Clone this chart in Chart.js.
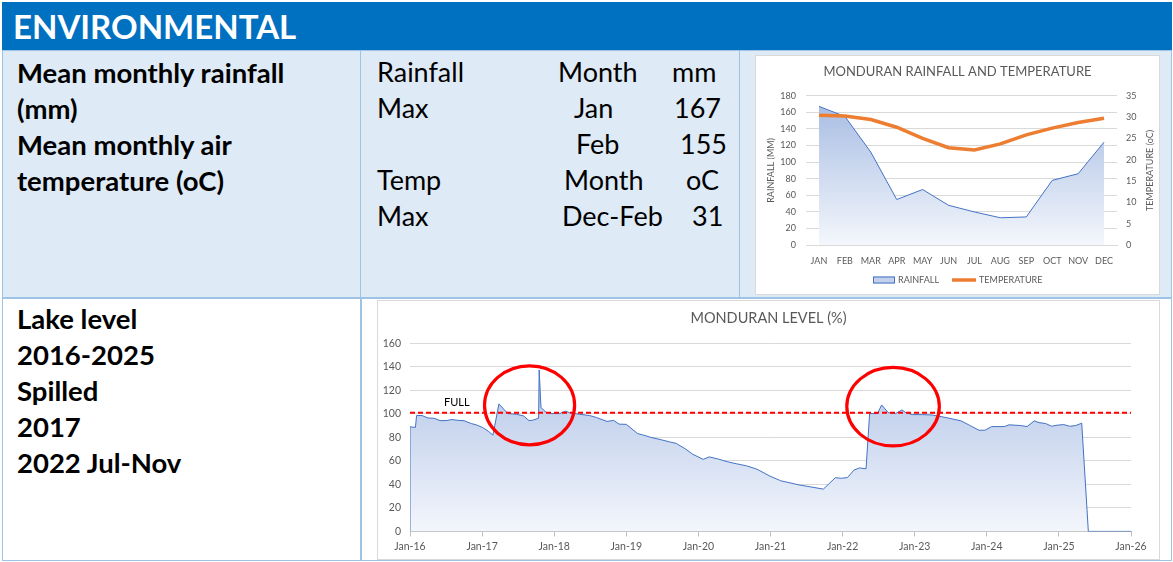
<!DOCTYPE html>
<html>
<head>
<meta charset="utf-8">
<script src="https://cdn.jsdelivr.net/npm/chart.js@4.4.1/dist/chart.umd.min.js"></script>
<style>
  body { margin: 0; width: 1173px; height: 562px; background: #fff; position: relative; overflow: hidden; font-family: Lato, "Open Sans", sans-serif; }
  .box { position: absolute; box-sizing: border-box; }
  .cell { border: 1.5px solid #9DC3E6; }
  .head { left: 2px; top: 2px; width: 1170px; height: 48px; background: #0070C0; color: #fff; font-weight: bold; font-size: 33px; line-height: 48px; padding-left: 11px; }
  .blue { background: #DEEAF6; }
  .lines { position: absolute; left: 14px; font-weight: bold; font-size: 27.5px; line-height: 36px; color: #000; white-space: nowrap; }
  .t { position: absolute; font-size: 27px; line-height: 36px; color: #000; white-space: nowrap; }
  .frame { background: #fff; border: 1px solid #D9D9D9; }
  canvas { position: absolute; left: 0; top: 0; }
</style>
</head>
<body>
<div class="box head">ENVIRONMENTAL</div>

<div class="box cell blue" style="left:2px; top:50px; width:360px; height:249px;">
  <div class="lines" style="top:4px;">Mean monthly rainfall<br>(mm)<br>Mean monthly air<br>temperature (oC)</div>
</div>
<div class="box cell blue" style="left:360px; top:50px; width:381px; height:249px;"></div>
<div class="box cell blue" style="left:739px; top:50px; width:433px; height:249px;"></div>

<div class="t" style="left:377px; top:54px;">Rainfall</div>
<div class="t" style="left:558px; top:54px;">Month</div>
<div class="t" style="left:672px; top:54px;">mm</div>
<div class="t" style="left:377px; top:90px;">Max</div>
<div class="t" style="left:574px; top:90px;">Jan</div>
<div class="t" style="left:674px; top:90px;">167</div>
<div class="t" style="left:576px; top:126px;">Feb</div>
<div class="t" style="left:680px; top:126px;">155</div>
<div class="t" style="left:377px; top:162px;">Temp</div>
<div class="t" style="left:564px; top:162px;">Month</div>
<div class="t" style="left:686px; top:162px;">oC</div>
<div class="t" style="left:377px; top:198px;">Max</div>
<div class="t" style="left:562px; top:198px;">Dec-Feb</div>
<div class="t" style="left:692px; top:198px;">31</div>

<div class="box frame" style="left:755px; top:55px; width:405px; height:240px;">
  <canvas id="rainChart" width="403" height="238"></canvas>
</div>

<div class="box cell" style="left:2px; top:297px; width:360px; height:264px;">
  <div class="lines" style="top:3px;">Lake level<br>2016-2025<br>Spilled<br>2017<br>2022 Jul-Nov</div>
</div>
<div class="box cell" style="left:360px; top:297px; width:812px; height:264px;"></div>

<div class="box frame" style="left:377px; top:300px; width:783px; height:260px;">
  <canvas id="levelChart" width="781" height="258"></canvas>
</div>

<script>
// Rainfall / temperature by month
const months = ["JAN", "FEB", "MAR", "APR", "MAY", "JUN", "JUL", "AUG", "SEP", "OCT", "NOV", "DEC"];
const rainfall = [167, 155, 112, 55, 67, 48, 40, 33, 34, 78, 86, 124];
const temperature = [30.4, 30.2, 29.4, 27.6, 25.0, 22.8, 22.3, 23.7, 25.8, 27.4, 28.7, 29.7];

// Lake level, x = months since Jan 2016
const levelMonth = [
  0, 0, 0.9, 1.1, 2, 3, 4, 5, 6, 7, 8, 9, 10.2, 11, 12.1, 13.1, 13.8, 14.8, 15.6, 16.3,
  17.7, 18.9, 19.8, 20.4, 21.4, 21.5, 21.8, 22.7, 23.5, 24.9, 25.9, 26.5, 28.2, 29.9, 31,
  32.8, 33.9, 34.8, 36, 37.9, 38.7, 40.1, 41.8, 43.2, 44.3, 45.9, 47, 48.8, 49.8, 51.3,
  52.8, 54.3, 56, 57.6, 58.1, 59.8, 61.7, 64.7, 68.8, 70.8, 71.8, 72.8, 73.9, 74.8, 75.9,
  76.5, 77.8, 78.5, 79.6, 80.8, 81.9, 82.5, 83.6, 85.3, 86.9, 89.2, 91.7, 93.1, 94.7, 95.7,
  96.8, 98.9, 99.7, 101.6, 102.7, 103.9, 104.7, 105.8, 106.8, 107.7, 108.8, 109.8, 110.8,
  111.8, 112.9, 120
];
const levelPct = [
  0, 89, 88.5, 98.6, 98.6, 96.5, 96.3, 94.3, 94.3, 95.2, 94.5, 94.2, 91.8, 90.7, 88.4, 85, 81.9, 108.5, 104, 100.3,
  99.7, 98.3, 94.3, 94.6, 96.3, 137.4, 105.4, 101.1, 100.3, 100.3, 102.3, 101.1, 99.7, 98.6, 97,
  93.6, 94.5, 91.3, 91.1, 83.2, 82.2, 80, 78, 76.2, 74.9, 70, 65.8, 61.3, 63.4, 61.6,
  59.3, 57.6, 55.8, 53.2, 52, 47.3, 43.1, 39.6, 36, 45.7, 45.2, 45.8, 52.2, 54, 53.3,
  100.3, 100.3, 107.6, 101.1, 100.3, 103.4, 101.1, 99.4, 99.4, 99.1, 96.9, 94.1, 90.4, 86.1, 86.1,
  89.2, 89.2, 90.7, 90.1, 89.2, 94.1, 92.6, 91.8, 89.5, 90.4, 90.9, 89.5, 90.1,
  92.1, 0, 0
];
const fullLevel = 101;
const yearLabels = ["Jan-16", "Jan-17", "Jan-18", "Jan-19", "Jan-20", "Jan-21", "Jan-22", "Jan-23", "Jan-24", "Jan-25", "Jan-26"];

Chart.defaults.font.family = "Lato";
Chart.defaults.color = "#595959";

// vertical gradient like the Excel area fill
function areaFill(top, bottom) {
  return (ctx) => {
    const area = ctx.chart.chartArea;
    if (!area) return top;
    const g = ctx.chart.ctx.createLinearGradient(0, area.top, 0, area.bottom);
    g.addColorStop(0, top);
    g.addColorStop(1, bottom);
    return g;
  };
}

// legend and right axis title drawn by hand (Excel style)
const rainExtras = {
  id: "rainExtras",
  afterDraw(chart) {
    const { ctx, chartArea, width } = chart;
    ctx.save();
    ctx.font = "9px Lato";
    ctx.fillStyle = "#595959";
    ctx.textBaseline = "middle";

    // right axis title, reading bottom to top
    ctx.save();
    ctx.translate(width - 9, (chartArea.top + chartArea.bottom) / 2);
    ctx.rotate(-Math.PI / 2);
    ctx.textAlign = "center";
    ctx.fillText("TEMPERATURE (oC)", 0, 0);
    ctx.restore();

    // legend
    const y = 224;
    const t1 = "RAINFALL";
    const t2 = "TEMPERATURE";
    const w1 = ctx.measureText(t1).width;
    const w2 = ctx.measureText(t2).width;
    const total = 22 + 3 + w1 + 13 + 24 + 3 + w2;
    let x = Math.round(width / 2 - total / 2);
    ctx.fillStyle = "#C3D1EC";
    ctx.fillRect(x, y - 3.5, 22, 7);
    ctx.strokeStyle = "#4472C4";
    ctx.lineWidth = 1;
    ctx.strokeRect(x + 0.5, y - 3, 21, 6);
    x += 25;
    ctx.fillStyle = "#595959";
    ctx.fillText(t1, x, y);
    x += w1 + 13;
    ctx.strokeStyle = "#ED7D31";
    ctx.lineWidth = 3.5;
    ctx.beginPath();
    ctx.moveTo(x, y);
    ctx.lineTo(x + 24, y);
    ctx.stroke();
    x += 27;
    ctx.fillText(t2, x, y);
    ctx.restore();
  },
};

new Chart(document.getElementById("rainChart"), {
  type: "line",
  data: {
    labels: months,
    datasets: [
      {
        label: "RAINFALL",
        data: rainfall,
        yAxisID: "y",
        fill: "origin",
        backgroundColor: areaFill("#A4BAE2", "#F4F7FC"),
        borderColor: "#4472C4",
        borderWidth: 1,
        pointRadius: 0,
        order: 2,
      },
      {
        label: "TEMPERATURE",
        data: temperature,
        yAxisID: "y1",
        fill: false,
        borderColor: "#ED7D31",
        borderWidth: 3.5,
        pointRadius: 0,
        order: 1,
      },
    ],
  },
  options: {
    responsive: false,
    animation: false,
    layout: { padding: { left: 0, right: 0, top: 0, bottom: 18 } },
    plugins: {
      tooltip: { enabled: false },
      legend: { display: false },
      title: {
        display: true,
        text: "MONDURAN RAINFALL AND TEMPERATURE",
        color: "#595959",
        font: { size: 13, weight: "normal" },
        padding: { top: 8, bottom: 16 },
      },
    },
    scales: {
      x: {
        offset: true,
        grid: { display: false, drawTicks: false },
        border: { color: "#D9D9D9" },
        ticks: { color: "#595959", font: { size: 9 }, padding: 10, maxRotation: 0 },
      },
      y: {
        position: "left",
        min: 0,
        max: 180,
        ticks: { stepSize: 20, color: "#595959", font: { size: 9 }, padding: 10 },
        grid: { color: "#D9D9D9", drawTicks: false },
        border: { display: false },
        title: { display: true, text: "RAINFALL (MM)", color: "#595959", font: { size: 9 }, padding: { top: 10 } },
        afterFit: (s) => { s.width = 50; },
      },
      y1: {
        position: "right",
        min: 0,
        max: 35,
        ticks: { stepSize: 5, color: "#595959", font: { size: 9 }, padding: 9 },
        grid: { display: false, drawTicks: false },
        border: { display: false },
        afterFit: (s) => { s.width = 42; },
      },
    },
  },
  plugins: [rainExtras],
});

// red rings round the spills and the FULL label
const spillRings = [
  { month: 19.9, pct: 107.3, rx: 7.5, ry: 33.6 },
  { month: 80.4, pct: 106.2, rx: 7.7, ry: 33.4 },
];
const levelNotes = {
  id: "levelNotes",
  afterDatasetsDraw(chart) {
    const { ctx, scales } = chart;
    const x = scales.x;
    const y = scales.y;
    ctx.save();
    ctx.fillStyle = "#000";
    ctx.font = "11px Lato";
    ctx.textAlign = "center";
    ctx.textBaseline = "middle";
    ctx.fillText("FULL", x.getPixelForValue(7.8), y.getPixelForValue(110));
    ctx.strokeStyle = "#FF0000";
    ctx.lineWidth = 3.2;
    spillRings.forEach((r) => {
      const cx = x.getPixelForValue(r.month);
      const cy = y.getPixelForValue(r.pct);
      const rx = x.getPixelForValue(r.month + r.rx) - cx;
      const ry = cy - y.getPixelForValue(r.pct + r.ry);
      ctx.beginPath();
      ctx.ellipse(cx, cy, rx, ry, 0, 0, Math.PI * 2);
      ctx.stroke();
    });
    ctx.restore();
  },
};

new Chart(document.getElementById("levelChart"), {
  type: "line",
  data: {
    datasets: [
      {
        label: "Level",
        data: levelMonth.map((m, i) => ({ x: m, y: levelPct[i] })),
        fill: "origin",
        backgroundColor: areaFill("#A9BEE4", "#F3F6FC"),
        borderColor: "#4472C4",
        borderWidth: 1,
        pointRadius: 0,
        order: 2,
      },
      {
        label: "Full",
        data: [{ x: 0, y: fullLevel }, { x: 120, y: fullLevel }],
        borderColor: "#FF0000",
        borderWidth: 2,
        borderDash: [5, 3],
        pointRadius: 0,
        fill: false,
        order: 1,
      },
    ],
  },
  options: {
    responsive: false,
    animation: false,
    layout: { padding: { left: 0, right: 0, top: 0, bottom: 2 } },
    plugins: {
      tooltip: { enabled: false },
      legend: { display: false },
      title: {
        display: true,
        text: "MONDURAN LEVEL (%)",
        color: "#595959",
        font: { size: 14.5, weight: "normal" },
        padding: { top: 9, bottom: 16 },
      },
    },
    scales: {
      x: {
        type: "linear",
        min: 0,
        max: 120,
        grid: { drawOnChartArea: false, drawTicks: true, tickLength: 5, color: "#BFBFBF" },
        border: { color: "#BFBFBF" },
        ticks: {
          stepSize: 12,
          autoSkip: false,
          maxRotation: 0,
          padding: 4,
          color: "#595959",
          font: { size: 10.5 },
          callback: (v) => yearLabels[v / 12],
        },
      },
      y: {
        min: 0,
        max: 160,
        ticks: { stepSize: 20, color: "#595959", font: { size: 10.5 }, padding: 9 },
        grid: { color: "#D9D9D9", drawTicks: false },
        border: { display: false },
        afterFit: (s) => { s.width = 32; },
      },
      // empty right margin so the title stays centred on the whole frame
      yPad: {
        position: "right",
        grid: { display: false, drawTicks: false },
        ticks: { display: false },
        border: { display: false },
        afterFit: (s) => { s.width = 28; },
      },
    },
  },
  plugins: [levelNotes],
});
</script>
</body>
</html>
